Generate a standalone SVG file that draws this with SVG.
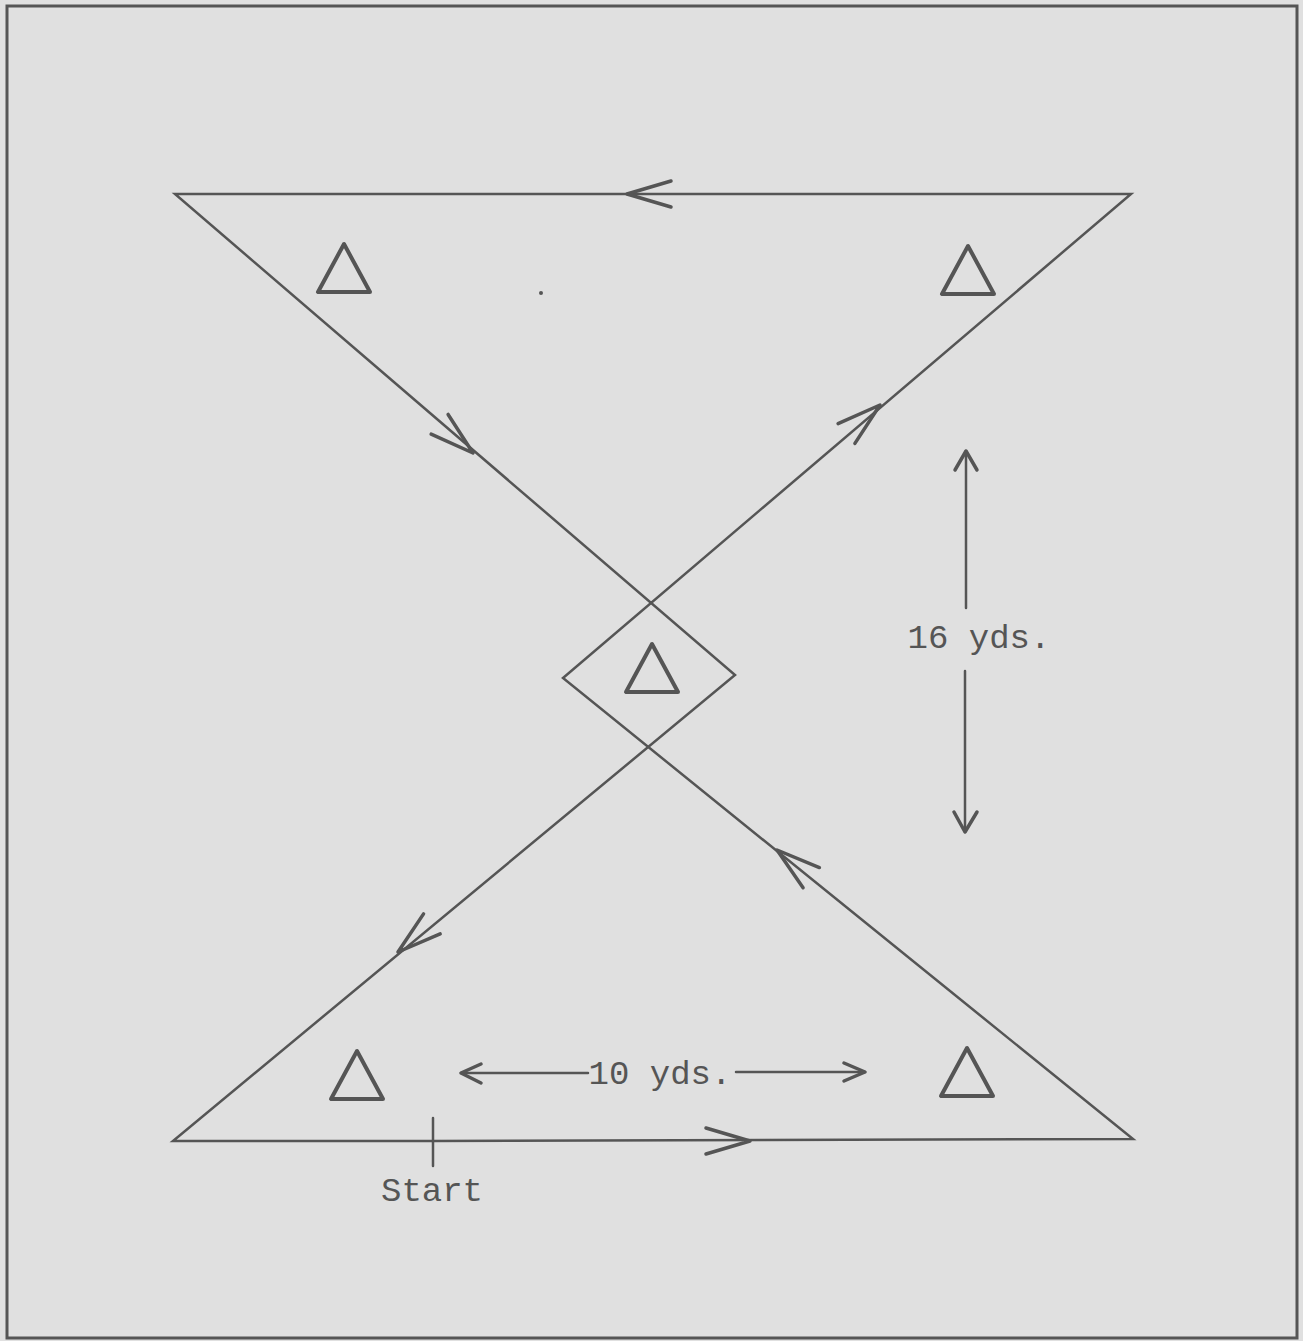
<svg xmlns="http://www.w3.org/2000/svg" xmlns:xlink="http://www.w3.org/1999/xlink" width="1303" height="1341" viewBox="0 0 1303 1341">
<style>
.ln{fill:none;stroke:#555;stroke-width:2.5;stroke-linejoin:miter;stroke-linecap:round}
.cone{fill:none;stroke:#555;stroke-width:4;stroke-linejoin:round}
.chev{fill:none;stroke:#555;stroke-width:3.5;stroke-linecap:round;stroke-linejoin:round}
.lbl{font-family:"Liberation Mono","Courier New",monospace;font-size:34px;fill:#555}
</style>
<defs>
<path id="chev" d="M -44 -13 L 0 0 L -44 13"/>
<path id="cone" d="M 0 -24 L -26 24 L 26 24 Z"/>
</defs>
<rect x="0" y="0" width="1303" height="1341" fill="#e0e0e0"/>
<rect x="7" y="6" width="1290" height="1332" fill="none" stroke="#555" stroke-width="3"/>
<g id="connectors">
<path class="ln" d="M 433 1141 L 1133 1139 L 563 678 L 1131 194 L 175 194 L 735 675 L 173 1141 Z"/>
<g class="chev">
<use xlink:href="#chev" transform="translate(750,1141) rotate(0)"/>
<use xlink:href="#chev" transform="translate(777,850) rotate(218.9)"/>
<use xlink:href="#chev" transform="translate(880,405) rotate(-40.4)"/>
<use xlink:href="#chev" transform="translate(627,194) rotate(180)"/>
<use xlink:href="#chev" transform="translate(473,453) rotate(40.7)"/>
<use xlink:href="#chev" transform="translate(398,952) rotate(140.3)"/>
</g>
</g>
<g id="cone-top-left"><use class="cone" xlink:href="#cone" transform="translate(344,268)"/></g>
<g id="cone-top-right"><use class="cone" xlink:href="#cone" transform="translate(968,270)"/></g>
<g id="cone-center"><use class="cone" xlink:href="#cone" transform="translate(652,668)"/></g>
<g id="cone-bottom-left"><use class="cone" xlink:href="#cone" transform="translate(357,1075)"/></g>
<g id="cone-bottom-right"><use class="cone" xlink:href="#cone" transform="translate(967,1072)"/></g>
<circle cx="541" cy="293" r="2" fill="#555"/>
<g id="dim-16">
<line class="ln" x1="966" y1="451" x2="966" y2="608"/>
<line class="ln" x1="965" y1="671" x2="965" y2="832"/>
<path class="chev" d="M 955 470 L 966 451 L 977 470"/>
<path class="chev" d="M 954 812 L 965 832 L 977 812"/>
<text class="lbl" x="979" y="648" text-anchor="middle">16 yds.</text>
</g>
<g id="dim-10">
<line class="ln" x1="461" y1="1073" x2="588" y2="1073"/>
<line class="ln" x1="736" y1="1072" x2="865" y2="1072"/>
<path class="chev" d="M 481 1064 L 461 1073 L 481 1083"/>
<path class="chev" d="M 844 1063 L 865 1072 L 844 1081"/>
<text class="lbl" x="660" y="1084" text-anchor="middle">10 yds.</text>
</g>
<g id="start">
<line class="ln" x1="433" y1="1118" x2="433" y2="1166"/>
<text class="lbl" x="432" y="1201" text-anchor="middle">Start</text>
</g>
</svg>
